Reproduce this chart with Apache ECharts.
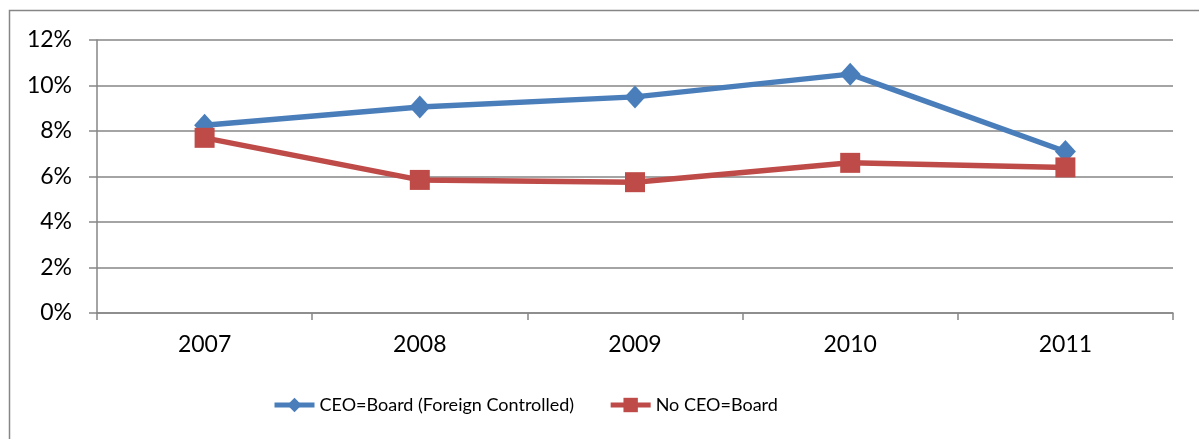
<!DOCTYPE html>
<html>
<head>
<meta charset="utf-8">
<script src="https://cdn.jsdelivr.net/npm/echarts@6/dist/echarts.min.js"></script>
<style>
  html, body { margin: 0; padding: 0; background: #fff; }
  #chart { width: 1199px; height: 439px; }
</style>
</head>
<body>
<div id="chart"></div>
<script>
// Years on the category axis
const years = ['2007', '2008', '2009', '2010', '2011'];
// Share of firms (%) per year
const ceoBoardForeign = [8.25, 9.05, 9.5, 10.5, 7.1];
const noCeoBoard = [7.7, 5.85, 5.75, 6.6, 6.4];
// Value-axis range and step (%)
const yMin = 0, yMax = 12, yStep = 2;

const gridColor = '#868686';
const font = 'Lato, "Open Sans", sans-serif';

const chart = echarts.init(document.getElementById('chart'), null, { renderer: 'canvas' });
chart.setOption({
  animation: false,
  backgroundColor: '#ffffff',
  graphic: [{
    type: 'rect',
    shape: { x: 9.5, y: 10.5, width: 1400, height: 600 },
    style: { fill: 'none', stroke: gridColor, lineWidth: 1.5 },
    silent: true
  }],
  grid: { left: 97, right: 26, top: 40, bottom: 126 },
  legend: {
    left: 267,
    top: 391,
    itemWidth: 40,
    itemHeight: 18,
    itemGap: 34,
    lineStyle: { width: 5 },
    textStyle: { fontFamily: font, fontSize: 18, color: '#000' },
    data: ['CEO=Board (Foreign Controlled)', 'No CEO=Board']
  },
  xAxis: {
    type: 'category',
    data: years,
    boundaryGap: true,
    axisLine: { show: true, lineStyle: { color: gridColor, width: 1.5 } },
    axisTick: { show: true, length: 7, lineStyle: { color: gridColor, width: 1.5 } },
    axisLabel: { margin: 20, fontFamily: font, fontSize: 23, color: '#000' }
  },
  yAxis: {
    type: 'value',
    min: yMin,
    max: yMax,
    interval: yStep,
    axisLine: { show: true, lineStyle: { color: gridColor, width: 1.5 } },
    axisTick: { show: true, length: 8, lineStyle: { color: gridColor, width: 1.5 } },
    splitLine: { show: true, lineStyle: { color: gridColor, width: 1.5 } },
    axisLabel: { margin: 25, fontFamily: font, fontSize: 23, color: '#000', formatter: '{value}%' }
  },
  series: [
    {
      name: 'CEO=Board (Foreign Controlled)',
      type: 'line',
      data: ceoBoardForeign,
      symbol: 'diamond',
      symbolSize: [21, 23],
      showAllSymbol: true,
      lineStyle: { color: '#4A7EBB', width: 5.5 },
      itemStyle: { color: '#4A7EBB' },
      z: 3
    },
    {
      name: 'No CEO=Board',
      type: 'line',
      data: noCeoBoard,
      symbol: 'rect',
      symbolSize: 20,
      showAllSymbol: true,
      lineStyle: { color: '#BE4B48', width: 5.5 },
      itemStyle: { color: '#BE4B48' },
      z: 4
    }
  ]
});
</script>
</body>
</html>
